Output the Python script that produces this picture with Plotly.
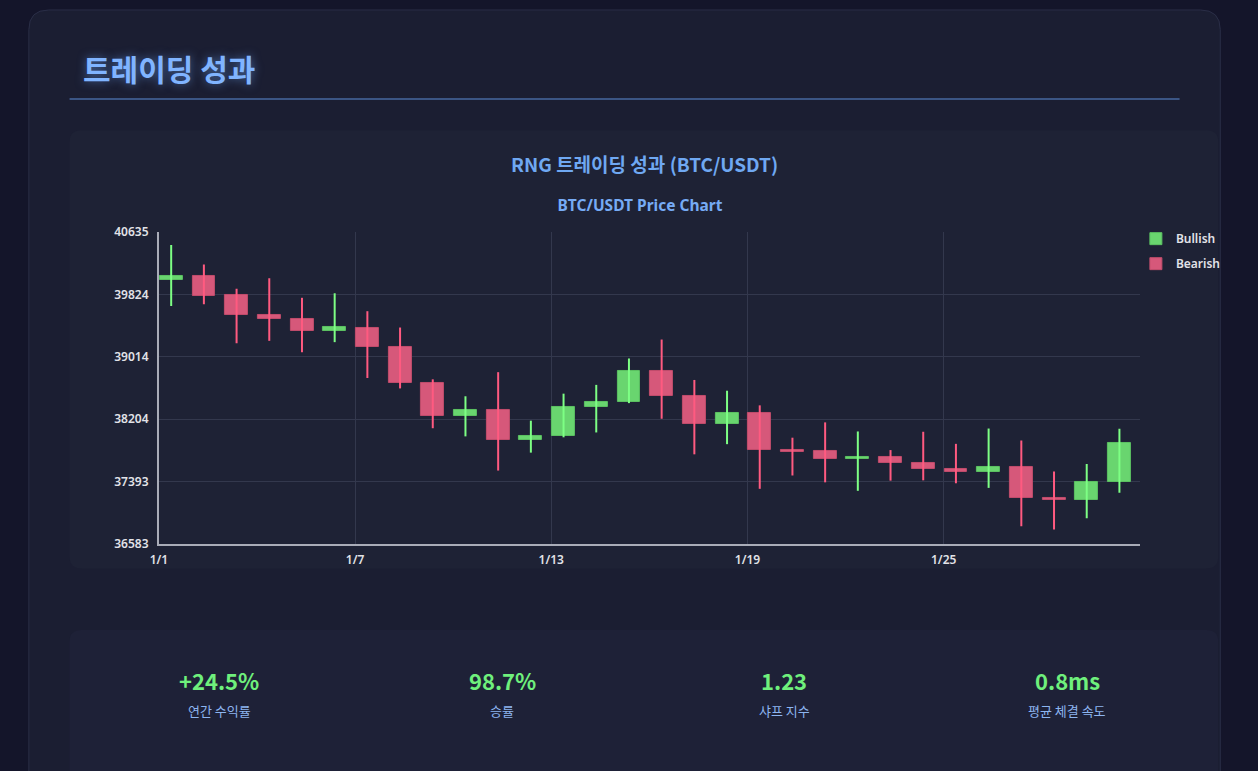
import plotly.graph_objects as go

W, H = 1258, 771
PAGE_BG = "#14152a"

# --- data -------------------------------------------------------------
dates = [f"2024-01-{d:02d} 09:00" for d in range(1, 31)]
open_ = [40013, 40063, 39814, 39560, 39505, 39355, 39386, 39136, 38675, 38247,
         38319, 37934, 37989, 38361, 38429, 38836, 38501, 38137, 38289, 37800,
         37790, 37692, 37713, 37633, 37557, 37515, 37587, 37184, 37159, 37388]
close = [40063, 39809, 39555, 39505, 39352, 39395, 39136, 38675, 38243, 38319,
         37934, 37989, 38357, 38429, 38836, 38501, 38137, 38289, 37798, 37775,
         37688, 37713, 37637, 37561, 37515, 37587, 37184, 37155, 37392, 37891]
high = [40466, 40212, 39898, 40034, 39780, 39839, 39606, 39394, 38721, 38501,
        38814, 38184, 38535, 38649, 38992, 39238, 38713, 38573, 38383, 37963,
        38162, 38044, 37802, 38040, 37883, 38082, 37925, 37523, 37620, 38078]
low = [39674, 39695, 39191, 39221, 39073, 39204, 38738, 38603, 38086, 37980,
       37536, 37769, 37968, 38031, 38412, 38209, 37747, 37879, 37299, 37472,
       37383, 37273, 37405, 37409, 37371, 37311, 36812, 36769, 36917, 37248]

y_ticks = [36583, 37393, 38204, 39014, 39824, 40635]
x_ticks = ["2024-01-01", "2024-01-07", "2024-01-13", "2024-01-19", "2024-01-25"]
x_labels = ["1/1", "1/7", "1/13", "1/19", "1/25"]

stat_values = ["+24.5%", "98.7%", "1.23", "0.8ms"]
stat_labels = ["연간 수익률", "승률", "샤프 지수", "평균 체결 속도"]

GREEN_FILL, GREEN_WICK = "#69d56f", "#7dff84"
RED_FILL, RED_WICK = "#d6587a", "#ff5a80"
TICK_FONT = dict(family="Noto Sans", size=12, color="#e2e2e8", weight=600)


def px(x):
    return x / W


def py(y):
    return 1 - y / H


def rrect(x0, y0, x1, y1, r):
    pts = [("M", x0 + r, y0), ("L", x1 - r, y0), ("Q", x1, y0, x1, y0 + r),
           ("L", x1, y1 - r), ("Q", x1, y1, x1 - r, y1), ("L", x0 + r, y1),
           ("Q", x0, y1, x0, y1 - r), ("L", x0, y0 + r), ("Q", x0, y0, x0 + r, y0)]
    out = []
    for p in pts:
        cmd, vals = p[0], p[1:]
        coords = []
        for i in range(0, len(vals), 2):
            coords.append(f"{px(vals[i]):.5f},{py(vals[i + 1]):.5f}")
        out.append(cmd + " " + " ".join(coords))
    return " ".join(out) + " Z"


fig = go.Figure()

# bodies
for name, fill, edge, cond in [("Bullish", GREEN_FILL, "#5cc262", lambda o, c: c >= o),
                               ("Bearish", RED_FILL, "#c24d6c", lambda o, c: c < o)]:
    idx = [i for i in range(len(dates)) if cond(open_[i], close[i])]
    fig.add_trace(go.Bar(
        x=[dates[i] for i in idx],
        y=[abs(close[i] - open_[i]) for i in idx],
        base=[min(open_[i], close[i]) for i in idx],
        width=0.7 * 86400000,
        name=name,
        legendgroup=name,
        marker=dict(color=fill, line=dict(color=edge, width=1)),
        hoverinfo="skip",
    ))

# wicks
for wick, cond in [(GREEN_WICK, lambda o, c: c >= o), (RED_WICK, lambda o, c: c < o)]:
    xs, ys = [], []
    for i in range(len(dates)):
        if cond(open_[i], close[i]):
            xs += [dates[i], dates[i], None]
            ys += [low[i], high[i], None]
    fig.add_trace(go.Scatter(x=xs, y=ys, mode="lines", line=dict(color=wick, width=2),
                             showlegend=False, hoverinfo="skip"))

shapes = [
    dict(type="path", path=rrect(20, 1, 1220, 800, 20), xref="paper", yref="paper",
         fillcolor="#1b1e32", line=dict(color="#2a2e47", width=1), layer="below"),
    dict(type="line", x0=px(61), x1=px(1179), y0=py(92), y1=py(92), xref="paper", yref="paper",
         line=dict(color="#3b5584", width=2), layer="below"),
    dict(type="path", path=rrect(61, 124, 1218, 572, 12), xref="paper", yref="paper",
         fillcolor="#1e2235", line=dict(width=0), layer="below"),
    dict(type="path", path=rrect(61, 635, 1218, 800, 12), xref="paper", yref="paper",
         fillcolor="#1e2137", line=dict(width=0), layer="below"),
]

annotations = [
    dict(text="<b>트레이딩 성과</b>", x=px(73), y=py(60), xanchor="left", yanchor="middle",
         font=dict(family="Noto Sans CJK KR", size=30, color="#80b4ff",
                   shadow="0px 0px 10px rgba(110,170,255,0.55)")),
    dict(text="<b>RNG 트레이딩 성과 (BTC/USDT)</b>", x=px(640), y=py(158),
         xanchor="center", yanchor="middle",
         font=dict(family="Noto Sans CJK KR", size=19, color="#6fa8f2")),
]
stat_x = [212, 497, 781, 1066]
for sx, val, lab in zip(stat_x, stat_values, stat_labels):
    annotations.append(dict(text=f"<b>{val}</b>", x=px(sx), y=py(686), xanchor="center",
                            yanchor="middle",
                            font=dict(family="Noto Sans CJK KR", size=22, color="#6ff07c")))
    annotations.append(dict(text=lab, x=px(sx), y=py(717), xanchor="center", yanchor="middle",
                            font=dict(family="Noto Sans CJK KR", size=13, color="#8db5f0")))
for a in annotations:
    a.update(xref="paper", yref="paper", showarrow=False)

fig.update_layout(
    width=W, height=H,
    margin=dict(l=0, r=0, t=0, b=0),
    paper_bgcolor=PAGE_BG,
    plot_bgcolor="rgba(0,0,0,0)",
    barmode="overlay",
    bargap=0,
    title=dict(text="<b>BTC/USDT Price Chart</b>", x=px(640), y=py(206),
               xanchor="center", yanchor="middle",
               font=dict(family="Noto Sans", size=15.5, color="#76abf5")),
    xaxis=dict(domain=[px(151), px(1139)], type="date",
               range=["2024-01-01", "2024-01-31"],
               tickvals=x_ticks, ticktext=x_labels,
               showgrid=True, gridcolor="#33384d", gridwidth=1,
               showline=True, linecolor="#a9acb8", linewidth=2,
               zeroline=False, ticks="", ticklabelstandoff=4,
               tickfont=TICK_FONT, fixedrange=True),
    yaxis=dict(domain=[py(547), py(228)], range=[y_ticks[0], y_ticks[-1]],
               tickvals=y_ticks, ticktext=[str(v) for v in y_ticks],
               showgrid=True, gridcolor="#33384d", gridwidth=1,
               showline=True, linecolor="#a9acb8", linewidth=2,
               zeroline=False, ticks="", ticklabelstandoff=6,
               tickfont=TICK_FONT, fixedrange=True),
    legend=dict(x=px(1135), y=py(220), xanchor="left", yanchor="top",
                bgcolor="rgba(0,0,0,0)", tracegroupgap=6,
                font=dict(family="Noto Sans", size=12, color="#e2e2e8", weight=600)),
    shapes=shapes,
    annotations=annotations,
)

# drop the default body margin so the figure sits at the page origin
fig.write_html("out.html", config={"displayModeBar": False},
               post_script=f"document.body.style.margin='0px';"
                           f"document.body.style.background='{PAGE_BG}';")
